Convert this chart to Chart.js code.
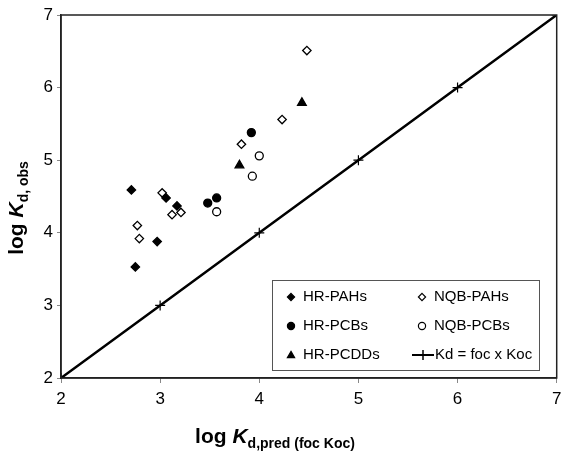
<!DOCTYPE html>
<html>
<head>
<meta charset="utf-8">
<script src="https://cdn.jsdelivr.net/npm/chart.js@4.4.1/dist/chart.umd.min.js"></script>
<style>
  body { margin: 0; background: #fff; }
  #wrap { width: 563px; height: 454px; }
</style>
</head>
<body>
<div id="wrap"><canvas id="kdChart" width="563" height="454"></canvas></div>
<script>
let axisTicks = [2, 3, 4, 5, 6, 7];

let hrPahsX = [2.71, 3.06, 3.17, 2.97, 2.75];
let hrPahsY = [4.59, 4.48, 4.37, 3.88, 3.53];

let nqbPahsX = [4.48, 4.23, 3.82, 3.02, 3.12, 3.21, 2.77, 2.79];
let nqbPahsY = [6.51, 5.56, 5.22, 4.55, 4.25, 4.28, 4.10, 3.92];

let hrPcbsX = [3.92, 3.48, 3.57];
let hrPcbsY = [5.38, 4.41, 4.48];

let nqbPcbsX = [4.00, 3.93, 3.57];
let nqbPcbsY = [5.06, 4.78, 4.29];

let hrPcddsX = [4.43, 3.80];
let hrPcddsY = [5.79, 4.93];

let oneToOne = [2, 3, 4, 5, 6, 7];

let toPoints = (xs, ys) => xs.map((x, i) => ({ x: x, y: ys[i] }));

let fontFamily = '"Liberation Sans", Arial, sans-serif';

let legendPlugin = {
  id: 'boxLegend',
  afterDatasetsDraw(chart) {
    let ctx = chart.ctx;
    let a = chart.chartArea;
    ctx.save();
    // full frame round the plot
    ctx.strokeStyle = '#222';
    ctx.lineWidth = 1.5;
    ctx.strokeRect(a.left, a.top, a.right - a.left, a.bottom - a.top);

    let bx = 272, by = 280, bw = 267, bh = 90;
    ctx.fillStyle = '#fff';
    ctx.fillRect(bx, by, bw, bh);
    ctx.strokeStyle = '#555';
    ctx.lineWidth = 1;
    ctx.strokeRect(bx + 0.5, by + 0.5, bw, bh);

    let cols = [291, 422];
    let rows = [297, 326, 355];
    ctx.font = '15px ' + fontFamily;
    ctx.textBaseline = 'middle';
    chart.data.datasets.forEach((ds, k) => {
      let cx = cols[k % 2];
      let cy = rows[Math.floor(k / 2)];
      if (ds.type === 'line') {
        ctx.strokeStyle = '#000';
        ctx.lineWidth = 2;
        ctx.beginPath();
        ctx.moveTo(cx - 10, cy);
        ctx.lineTo(cx + 12, cy);
        ctx.stroke();
        ctx.lineWidth = 1.5;
        ctx.beginPath();
        ctx.moveTo(cx + 1, cy - 5);
        ctx.lineTo(cx + 1, cy + 5);
        ctx.stroke();
        ctx.fillStyle = '#000';
        ctx.fillText(ds.label, cx + 13, cy);
      } else {
        ctx.fillStyle = ds.backgroundColor;
        ctx.strokeStyle = ds.borderColor;
        ctx.lineWidth = 1.2;
        ctx.beginPath();
        let r = 3.6;
        if (ds.pointStyle === 'rectRot') {
          ctx.moveTo(cx, cy - r); ctx.lineTo(cx + r, cy); ctx.lineTo(cx, cy + r); ctx.lineTo(cx - r, cy); ctx.closePath();
        } else if (ds.pointStyle === 'circle') {
          ctx.arc(cx, cy, r, 0, Math.PI * 2);
        } else {
          ctx.moveTo(cx, cy - r); ctx.lineTo(cx + r, cy + r - 1); ctx.lineTo(cx - r, cy + r - 1); ctx.closePath();
        }
        ctx.fill();
        ctx.stroke();
        ctx.fillStyle = '#000';
        ctx.fillText(ds.label, cx + 12, cy);
      }
    });
    ctx.restore();
  },
};

let titlePlugin = {
  id: 'subTitles',
  afterDraw(chart) {
    let ctx = chart.ctx;
    ctx.save();
    ctx.fillStyle = '#000';
    ctx.textBaseline = 'alphabetic';

    let drawTitle = (parts) => {
      let total = 0;
      parts.forEach((p) => {
        ctx.font = p.font;
        p.w = ctx.measureText(p.text).width;
        total += p.w;
      });
      let x = -total / 2;
      parts.forEach((p) => {
        ctx.font = p.font;
        ctx.fillText(p.text, x, p.dy || 0);
        x += p.w;
      });
    };

    // x axis title
    ctx.save();
    ctx.translate(275, 443);
    drawTitle([
      { text: 'log ', font: 'bold 21px ' + fontFamily },
      { text: 'K', font: 'italic bold 21px ' + fontFamily },
      { text: 'd,pred (foc Koc)', font: 'bold 14px ' + fontFamily, dy: 5 },
    ]);
    ctx.restore();

    // y axis title
    ctx.save();
    ctx.translate(23, 208);
    ctx.rotate(-Math.PI / 2);
    drawTitle([
      { text: 'log ', font: 'bold 21px ' + fontFamily },
      { text: 'K', font: 'italic bold 21px ' + fontFamily },
      { text: 'd, obs', font: 'bold 14px ' + fontFamily, dy: 5 },
    ]);
    ctx.restore();

    ctx.restore();
  },
};

let scatterSet = (label, xs, ys, style, filled, radius) => ({
  label: label,
  type: 'scatter',
  data: toPoints(xs, ys),
  pointStyle: style,
  pointRadius: radius,
  pointHoverRadius: radius,
  backgroundColor: filled ? '#000' : '#fff',
  borderColor: '#000',
  borderWidth: 1.3,
});

let data = {
  datasets: [
    scatterSet('HR-PAHs', hrPahsX, hrPahsY, 'rectRot', true, 4.2),
    scatterSet('NQB-PAHs', nqbPahsX, nqbPahsY, 'rectRot', false, 4.2),
    scatterSet('HR-PCBs', hrPcbsX, hrPcbsY, 'circle', true, 4),
    scatterSet('NQB-PCBs', nqbPcbsX, nqbPcbsY, 'circle', false, 4),
    scatterSet('HR-PCDDs', hrPcddsX, hrPcddsY, 'triangle', true, 5),
    {
      label: 'Kd = foc x Koc',
      type: 'line',
      data: toPoints(oneToOne, oneToOne),
      borderColor: '#000',
      borderWidth: 2.5,
      pointStyle: 'cross',
      pointRadius: 5,
      pointBorderWidth: 1.2,
      pointBorderColor: '#000',
      fill: false,
      tension: 0,
    },
  ],
};

new Chart(document.getElementById('kdChart').getContext('2d'), {
  type: 'scatter',
  data: data,
  plugins: [legendPlugin, titlePlugin],
  options: {
    responsive: false,
    animation: false,
    layout: {
      padding: { left: 0, right: 4, top: 15, bottom: 0 },
    },
    plugins: {
      legend: { display: false },
      tooltip: { enabled: false },
    },
    scales: {
      x: {
        type: 'linear',
        min: 2,
        max: 7,
        afterBuildTicks: (scale) => {
          scale.ticks = axisTicks.map((v) => ({ value: v }));
        },
        afterFit: (scale) => {
          scale.height = 76;
          scale.paddingRight = 0;
          scale.paddingLeft = 0;
        },
        grid: {
          drawOnChartArea: false,
          drawTicks: true,
          tickLength: 5,
          color: '#888',
        },
        border: { color: '#222', width: 1.5 },
        ticks: {
          color: '#000',
          padding: 6,
          font: { family: fontFamily, size: 17 },
        },
      },
      y: {
        type: 'linear',
        min: 2,
        max: 7,
        afterBuildTicks: (scale) => {
          scale.ticks = axisTicks.map((v) => ({ value: v }));
        },
        afterFit: (scale) => {
          scale.width = 61;
          scale.paddingTop = 0;
          scale.paddingBottom = 0;
        },
        grid: {
          drawOnChartArea: false,
          drawTicks: true,
          tickLength: 4,
          color: '#888',
        },
        border: { color: '#222', width: 1.5 },
        ticks: {
          color: '#000',
          padding: 4,
          font: { family: fontFamily, size: 17 },
        },
      },
    },
  },
});
</script>
</body>
</html>
